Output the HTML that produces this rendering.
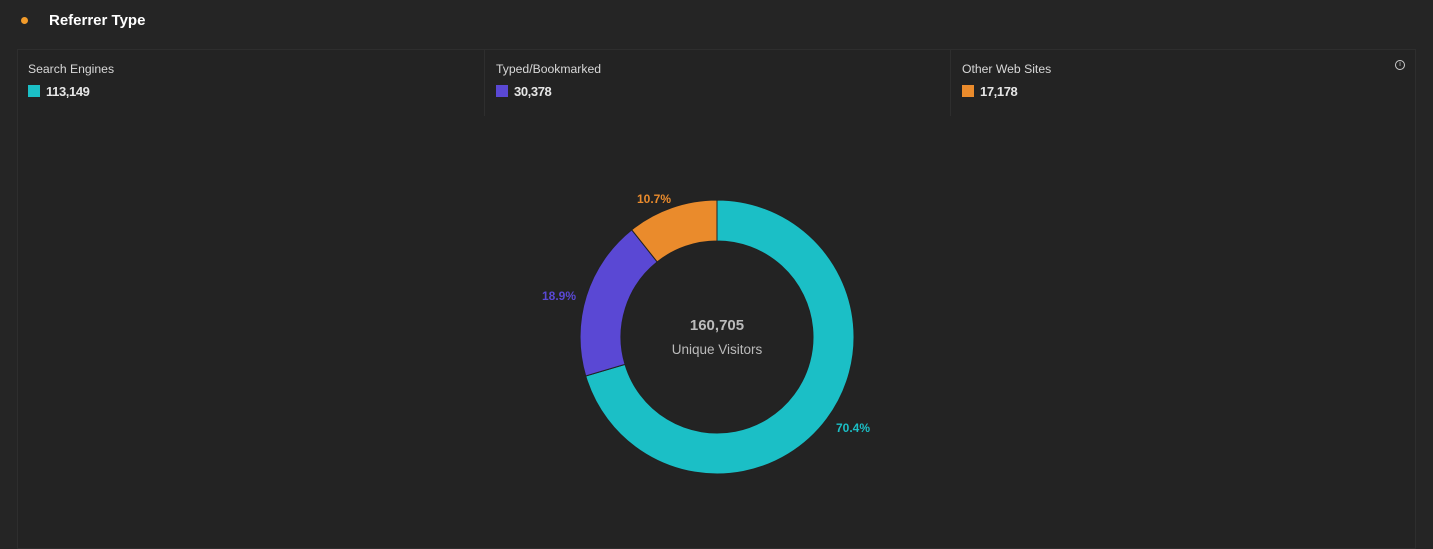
<!DOCTYPE html>
<html><head><meta charset="utf-8"><style>
body{margin:0;width:1433px;height:535px;background:#252525;font-family:"Liberation Sans",sans-serif;overflow:hidden;position:relative;color:#ddd}
.abs{position:absolute}
.lab{font-size:12.2px;color:#d8d8d8}
.val{font-size:13px;font-weight:bold;color:#e6e6e6;letter-spacing:-0.4px}
.sw{width:12px;height:12px;display:inline-block;vertical-align:-1px;margin-right:6px}
</style></head><body>
<div class="abs" style="left:21px;top:17px;width:7px;height:7px;border-radius:50%;background:#f29b2a"></div>
<div class="abs" style="left:49px;top:12px;font-size:15px;font-weight:bold;color:#fff">Referrer Type</div>
<div class="abs" style="left:17px;top:49px;width:1399px;height:500px;border:1px solid #2e2e2e;box-sizing:border-box;background:#232323"></div>
<div class="abs" style="left:484px;top:50px;width:1px;height:66px;background:#2e2e2e"></div>
<div class="abs" style="left:950px;top:50px;width:1px;height:66px;background:#2e2e2e"></div>
<div class="abs lab" style="left:28px;top:62px">Search Engines</div>
<div class="abs val" style="left:28px;top:84px"><span class="sw" style="background:#1bbfc6"></span>113,149</div>
<div class="abs lab" style="left:496px;top:62px">Typed/Bookmarked</div>
<div class="abs val" style="left:496px;top:84px"><span class="sw" style="background:#5a48d4"></span>30,378</div>
<div class="abs lab" style="left:962px;top:62px">Other Web Sites</div>
<div class="abs val" style="left:962px;top:84px"><span class="sw" style="background:#ea8b2c"></span>17,178</div>
<div class="abs" style="left:1395px;top:60px;width:8px;height:8px;border:1px solid #ccc;border-radius:50%;font-size:7px;line-height:8px;text-align:center;color:#ccc">i</div>
<svg class="abs" style="left:0;top:0" width="1433" height="535">
<path d="M717 200 A137 137 0 1 1 585.7 376 L625 364.4 A96 96 0 1 0 717 241 Z" fill="#1bbfc6" stroke="#222" stroke-width="1"/>
<path d="M585.7 376 A137 137 0 0 1 631.7 229.8 L657.2 261.9 A96 96 0 0 0 625 364.4 Z" fill="#5a48d4" stroke="#222" stroke-width="1"/>
<path d="M631.7 229.8 A137 137 0 0 1 717 200 L717 241 A96 96 0 0 0 657.2 261.9 Z" fill="#ea8b2c" stroke="#222" stroke-width="1"/>
<text x="717" y="330" text-anchor="middle" font-size="15" font-weight="bold" fill="#bbb" font-family="Liberation Sans">160,705</text>
<text x="717" y="354" text-anchor="middle" font-size="13.5" fill="#bbb" font-family="Liberation Sans">Unique Visitors</text>
<text x="654" y="203" text-anchor="middle" font-size="12" font-weight="bold" fill="#ea8b2c" font-family="Liberation Sans">10.7%</text>
<text x="559" y="300" text-anchor="middle" font-size="12" font-weight="bold" fill="#5a48d4" font-family="Liberation Sans">18.9%</text>
<text x="853" y="432" text-anchor="middle" font-size="12" font-weight="bold" fill="#1bbfc6" font-family="Liberation Sans">70.4%</text>
</svg>
</body></html>
